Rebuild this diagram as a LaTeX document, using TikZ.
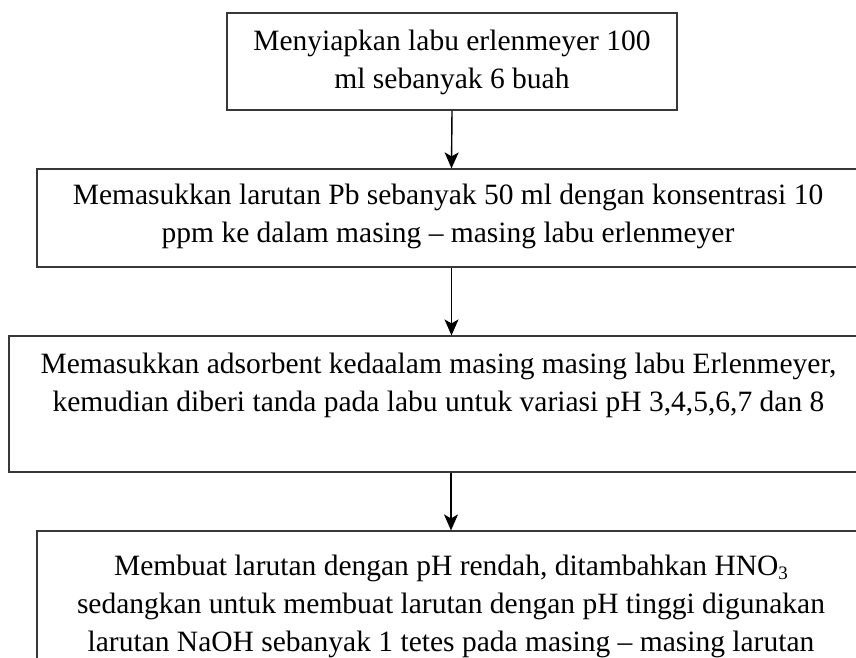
\documentclass[tikz,border=0pt]{standalone}
\usepackage{fontspec}
\setmainfont{Liberation Serif}
\usetikzlibrary{arrows.meta}
\newcommand{\mysub}[1]{\raisebox{-0.3ex}{\fontsize{19}{19}\selectfont #1}}
\begin{document}
\begin{tikzpicture}[x=1pt,y=1pt,
  box/.style={draw=black!78, line width=1.2pt, rectangle, inner sep=0pt},
  txt/.style={font=\fontsize{29.5}{38}\selectfont, align=center, inner sep=0pt},
  arr/.style={line width=1.4pt, -{Stealth[length=16pt,width=14pt,inset=4pt]}}
]
\useasboundingbox (0,0) rectangle (856,-657);
\clip (0,0) rectangle (856,-657);
\node[box, minimum width=450, minimum height=97] (b1) at (452,-61.5) {};
\node[box, minimum width=829, minimum height=98] (b2) at (451.5,-218) {};
\node[box, minimum width=859, minimum height=136] (b3) at (438.5,-404) {};
\node[box, minimum width=828, minimum height=200] (b4) at (451,-631) {};
\node[txt] (t1) at (452,-62) {Menyiapkan labu erlenmeyer 100\\ml sebanyak 6 buah};
\node[txt] (t2) at (448,-216) {Memasukkan larutan Pb sebanyak 50 ml dengan konsentrasi 10\\ppm ke dalam masing – masing labu erlenmeyer};
\node[txt] (t3) at (438.5,-385) {Memasukkan adsorbent kedaalam masing masing labu Erlenmeyer,\\kemudian diberi tanda pada labu untuk variasi pH 3,4,5,6,7 dan 8};
\node[txt] (t4) at (451,-606) {Membuat larutan dengan pH rendah, ditambahkan HNO\mysub{3}\\sedangkan untuk membuat larutan dengan pH tinggi digunakan\\larutan NaOH sebanyak 1 tetes pada masing – masing larutan};
\draw[arr] (b1.south) -- (b2.north);
\draw[arr] (b2.south) -- (b2.south |- b3.north);
\draw[arr] (b4.north |- b3.south) -- (b4.north);
\end{tikzpicture}
\end{document}
